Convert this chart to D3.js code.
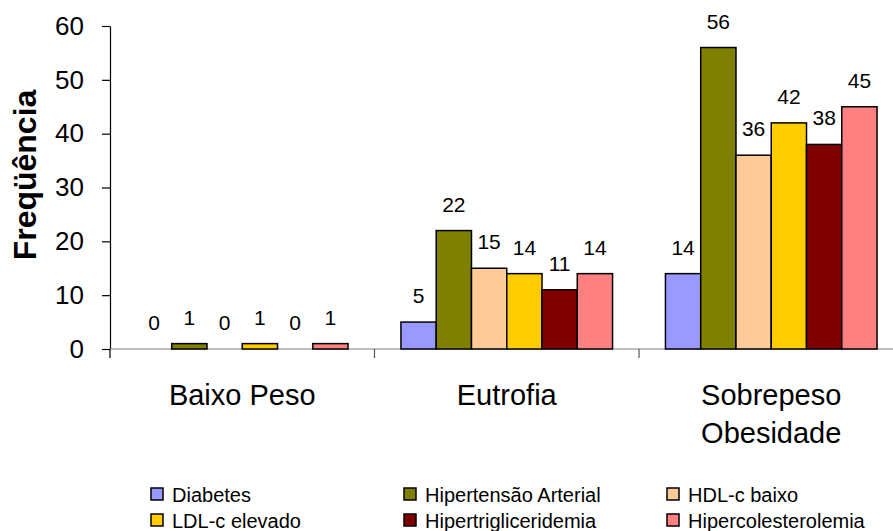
<!DOCTYPE html>
<html>
<head>
<meta charset="utf-8">
<script src="https://d3js.org/d3.v7.min.js"></script>
<style>
	body { margin: 0; background: #fff; }
	svg { display: block; font-family: "Liberation Sans", Arial, sans-serif; }
</style>
</head>
<body>
<script>
// categories on the x axis (one group each, label split on lines)
var categories = ["Baixo Peso", "Eutrofia", "Sobrepeso Obesidade"];
var categoryLines = [["Baixo Peso"], ["Eutrofia"], ["Sobrepeso", "Obesidade"]];

// series names and colours
var seriesNames = ["Diabetes", "Hipertensão Arterial", "HDL-c baixo",
	"LDL-c elevado", "Hipertrigliceridemia", "Hipercolesterolemia"];
var seriesColors = ["#9999ff", "#808000", "#ffcc99", "#ffcc00", "#800000", "#ff8080"];

// values, one array per series, in category order
var diabetes = [0, 5, 14];
var hipertensao = [1, 22, 56];
var hdlBaixo = [0, 15, 36];
var ldlElevado = [1, 14, 42];
var hipertrig = [0, 11, 38];
var hipercol = [1, 14, 45];
var seriesValues = [diabetes, hipertensao, hdlBaixo, ldlElevado, hipertrig, hipercol];

var yTicks = [0, 10, 20, 30, 40, 50, 60];

var width = 893,
	height = 531;

var svg = d3.select("body").append("svg")
	.attr("width", width)
	.attr("height", height);

//plot area borders
var border = { left: 110, top: 26, bottom: 349, right: 903.5 };

var x0 = d3.scaleBand()
	.domain(categories)
	.range([border.left, border.right])
	.paddingInner(0)
	.paddingOuter(0);

//bars take the middle 80% of each group
var x1 = d3.scaleBand()
	.domain(seriesNames)
	.range([x0.bandwidth() * 0.1, x0.bandwidth() * 0.9])
	.paddingInner(0)
	.paddingOuter(0);

var y = d3.scaleLinear()
	.domain([0, 60])
	.range([border.bottom, border.top]);

// y axis
var yAxis = d3.axisLeft(y)
	.tickValues(yTicks)
	.tickSize(8)
	.tickPadding(18)
	.tickSizeOuter(0);

var gy = svg.append("g")
	.attr("transform", "translate(" + border.left + ",0)")
	.call(yAxis);
gy.select(".domain").attr("stroke", "#000").attr("stroke-width", 1.2);
gy.selectAll(".tick line").attr("stroke", "#000").attr("stroke-width", 1.2);
gy.selectAll(".tick text")
	.attr("font-size", 26)
	.attr("fill", "#000")
	.attr("font-family", "'Liberation Sans', Arial, sans-serif");

// y axis extends a little below zero
svg.append("line")
	.attr("x1", border.left).attr("x2", border.left)
	.attr("y1", border.bottom).attr("y2", border.bottom + 9)
	.attr("stroke", "#000").attr("stroke-width", 1.2);

// x axis line (grey) and group separator ticks
svg.append("line")
	.attr("x1", border.left).attr("x2", width)
	.attr("y1", border.bottom).attr("y2", border.bottom)
	.attr("stroke", "#808080").attr("stroke-width", 1.2);

svg.selectAll(".sep")
	.data(categories.slice(1))
	.enter().append("line")
	.attr("class", "sep")
	.attr("x1", (d) => x0(d)).attr("x2", (d) => x0(d))
	.attr("y1", border.bottom).attr("y2", border.bottom + 9)
	.attr("stroke", "#555").attr("stroke-width", 1.2);

// category labels
categories.forEach(function (c, i) {
	var t = svg.append("text")
		.attr("x", x0(c) + x0.bandwidth() / 2)
		.attr("y", 405)
		.attr("text-anchor", "middle")
		.attr("font-size", 29)
		.attr("fill", "#000");
	categoryLines[i].forEach(function (line, j) {
		t.append("tspan")
			.attr("x", x0(c) + x0.bandwidth() / 2)
			.attr("dy", j === 0 ? 0 : 37.5)
			.text(line);
	});
});

// bars and value labels
var groups = svg.selectAll(".group")
	.data(categories)
	.enter().append("g")
	.attr("class", "group")
	.attr("transform", (d) => "translate(" + x0(d) + ",0)");

groups.each(function (c, ci) {
	var g = d3.select(this);
	var rows = seriesNames.map((s, si) => ({ name: s, color: seriesColors[si], value: seriesValues[si][ci] }));

	// zero values get no bar, only the label
	g.selectAll("rect")
		.data(rows.filter((d) => d.value > 0))
		.enter().append("rect")
		.attr("x", (d) => x1(d.name))
		.attr("y", (d) => y(d.value))
		.attr("width", x1.bandwidth())
		.attr("height", (d) => y(0) - y(d.value))
		.attr("fill", (d) => d.color)
		.attr("stroke", "#000")
		.attr("stroke-width", 1.5);

	g.selectAll("text")
		.data(rows)
		.enter().append("text")
		.attr("x", (d) => x1(d.name) + x1.bandwidth() / 2)
		.attr("y", (d) => y(d.value) - 19)
		.attr("text-anchor", "middle")
		.attr("font-size", 21)
		.attr("fill", "#000")
		.text((d) => d.value);
});

// y axis title
svg.append("text")
	.attr("transform", "translate(36,175) rotate(-90)")
	.attr("text-anchor", "middle")
	.attr("font-size", 32)
	.attr("font-weight", "bold")
	.attr("fill", "#000")
	.text("Freqüência");

// legend, 3 columns x 2 rows
var legendCols = [151, 404, 667];
var legendRows = [488, 514];

var legend = svg.selectAll(".legend")
	.data(seriesNames)
	.enter().append("g")
	.attr("class", "legend")
	.attr("transform", (d, i) => "translate(" + legendCols[i % 3] + "," + legendRows[Math.floor(i / 3)] + ")");

legend.append("rect")
	.attr("width", 12)
	.attr("height", 12)
	.attr("fill", (d, i) => seriesColors[i])
	.attr("stroke", "#000")
	.attr("stroke-width", 1.5);

legend.append("text")
	.attr("x", 21)
	.attr("y", 14)
	.attr("font-size", 20)
	.attr("fill", "#000")
	.text((d) => d);
</script>
</body>
</html>
